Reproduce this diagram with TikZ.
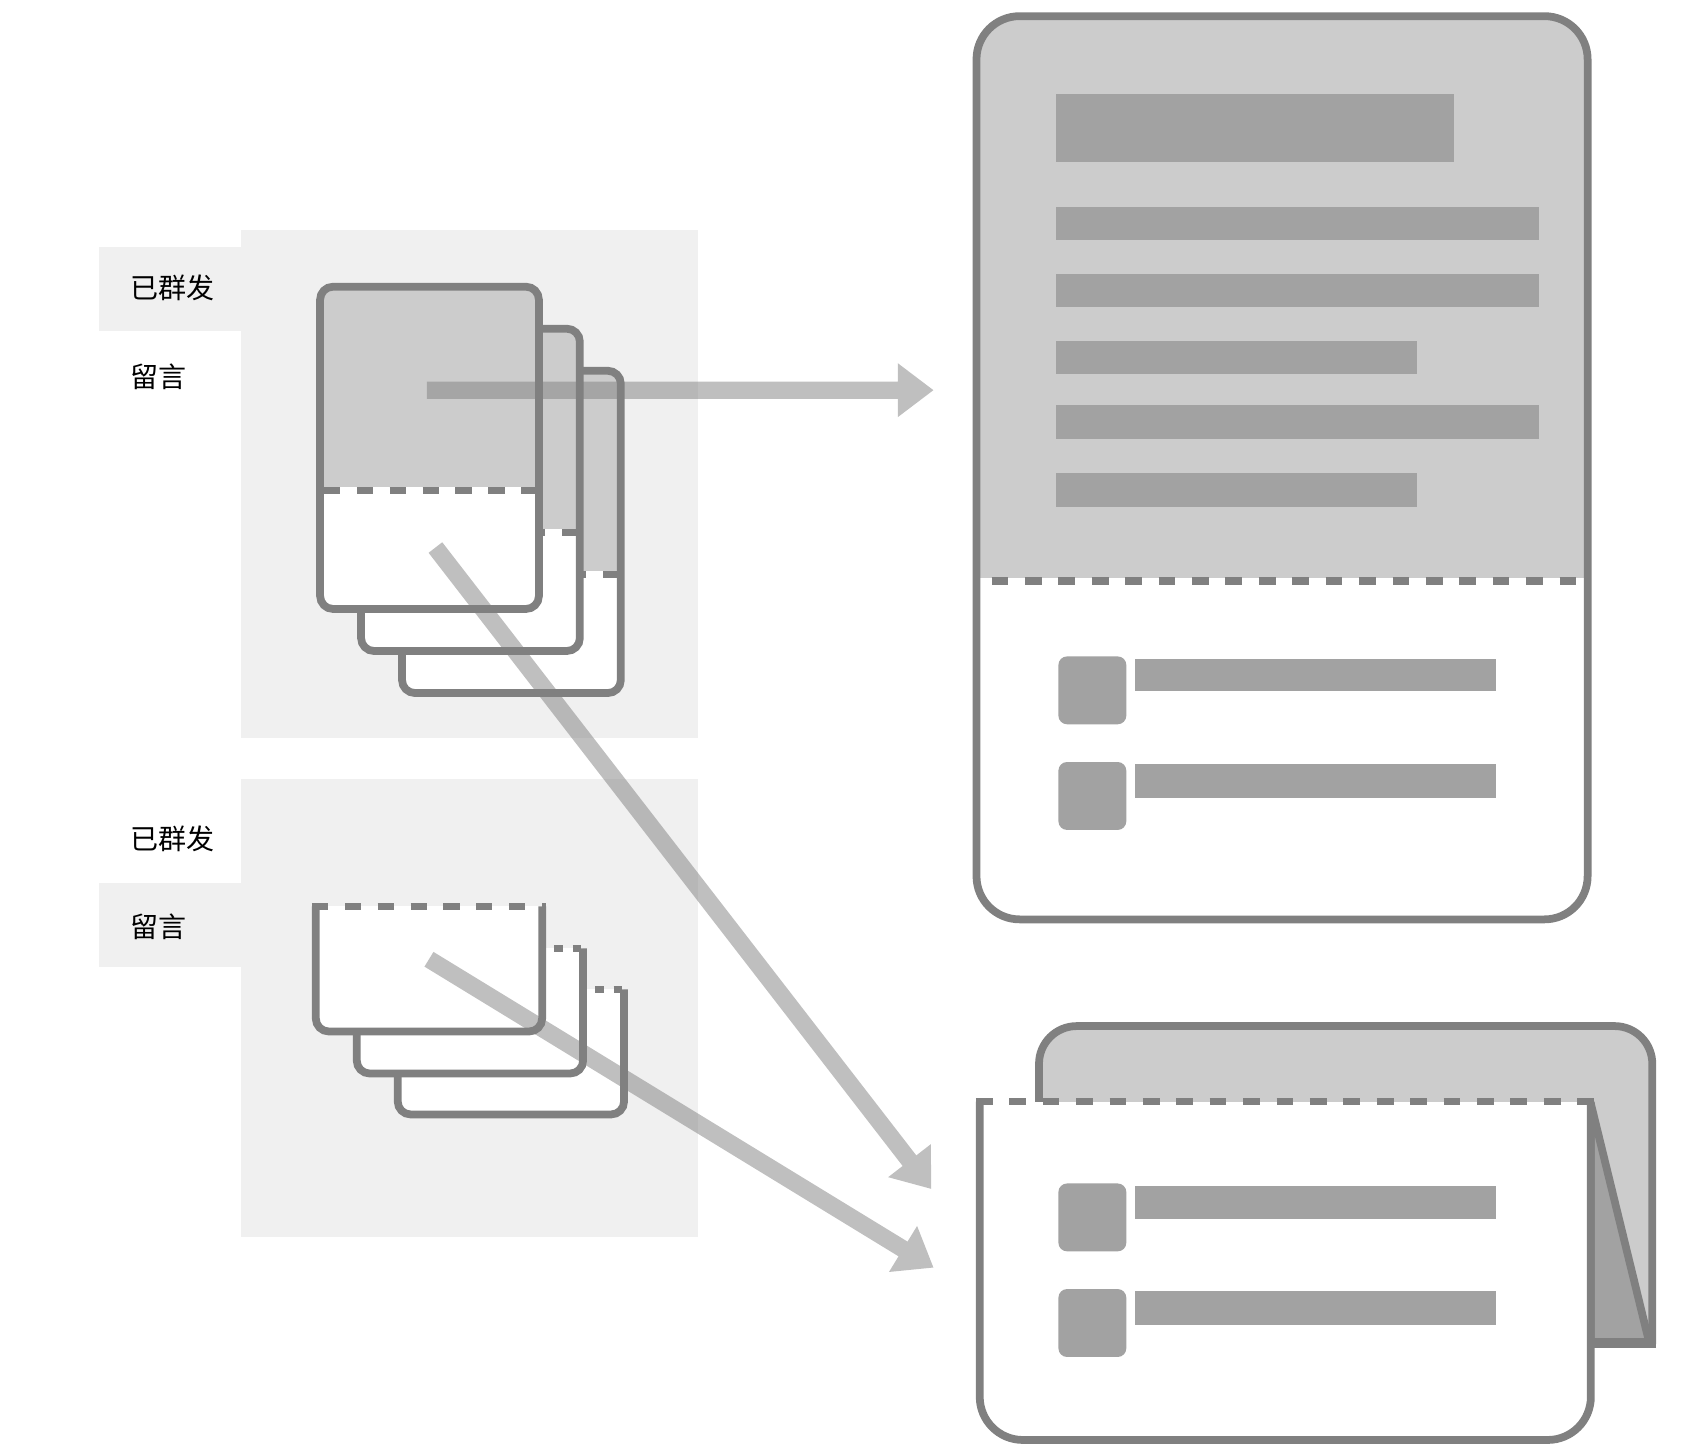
\documentclass[tikz,border=0pt]{standalone}
\usepackage{fontspec}
\newfontfamily\cjk{Noto Sans CJK SC}
\usetikzlibrary{calc}
\definecolor{panelc}{HTML}{F0F0F0}
\definecolor{topc}{HTML}{CCCCCC}
\definecolor{barc}{HTML}{A2A2A2}
\definecolor{bordc}{HTML}{808080}
\tikzset{
  bord/.style={draw=bordc, line width=7.2pt},
  dsh/.style={dash pattern=on 15pt off 15.5pt},
  smalldsh/.style={dash pattern=on 8pt off 9pt},
  bar/.style={fill=barc},
  lbl/.style={font=\cjk\fontsize{26}{30}\selectfont, text=black, inner sep=0pt, anchor=west},
  arrowfill/.style={fill=bordc, fill opacity=0.5},
}
\newcommand{\tallcard}[2]{%
  \begin{scope}
    \clip[rounded corners=12pt] (#1,#2) rectangle ++(203,299);
    \fill[white] (#1,#2) rectangle ++(203,299);
    \fill[topc] (#1,#2) rectangle ++(203,186);
  \end{scope}
  \draw[bord, dsh] ($(#1,#2)+(3.6,189)$) -- ++(195.8,0);
  \draw[bord, rounded corners=12pt] (#1,#2) rectangle ++(203,299);
}
\newcommand{\widecard}[3]{%
  \begin{scope}
    \clip[rounded corners=12pt] ($(#1,#2)+(0,-20)$) rectangle ++(210,136);
    \fill[white] (#1,#2) rectangle ++(210,116);
  \end{scope}
  \draw[bord, rounded corners=12pt] (#1,#2) -- ++(0,116) -- ++(210,0) -- ++(0,-116);
  \draw[bord, #3] ($(#1,#2)+(-3.6,0)$) -- ++(217.2,0);
}
\newcommand{\fatarrow}[2]{%
  \coordinate (hb) at ($(#2)!33pt!(#1)$);
  \fill[arrowfill] ($(#1)!8pt!90:(#2)$) -- ($(hb)!8pt!90:(#2)$) -- ($(hb)!25pt!90:(#2)$)
    -- (#2) -- ($(hb)!25pt!-90:(#2)$) -- ($(hb)!8pt!-90:(#2)$) -- ($(#1)!8pt!-90:(#2)$) -- cycle;
}
\begin{document}
\begin{tikzpicture}[x=1pt,y=-1pt]
\useasboundingbox (0,0) rectangle (1568,1349);
\fill[white] (0,0) rectangle (1568,1349);

% left panels
\fill[panelc] (224,213) rectangle (648,685);
\fill[panelc] (92,229) rectangle (224,307);
\fill[panelc] (224,723) rectangle (648,1148);
\fill[panelc] (92,819) rectangle (224,897);

\node[lbl] (l1a) at (121,267) {已群发};
\node[lbl] (l1b) at (121,350) {留言};
\node[lbl] (l2a) at (121,778) {已群发};
\node[lbl] (l2b) at (121,860) {留言};

% top stacked cards
\tallcard{373}{344}
\tallcard{335}{305}
\tallcard{297}{266}

% bottom stacked cards
\widecard{369}{918}{smalldsh}
\widecard{331}{880}{smalldsh}
\widecard{293}{841}{dsh}

% big card top right
\begin{scope}
  \clip[rounded corners=40pt] (906,15) rectangle (1473,853);
  \fill[white] (906,15) rectangle (1473,853);
  \fill[topc] (906,15) rectangle (1473,536);
\end{scope}
\draw[bord, dash pattern=on 15.5pt off 15.5pt] (920,539) -- (1463,539);
\draw[bord, rounded corners=40pt] (906,15) rectangle (1473,853);
\fill[bar] (980,87) rectangle (1349,150);
\fill[bar] (980,192) rectangle (1428,223);
\fill[bar] (980,254) rectangle (1428,285);
\fill[bar] (980,316) rectangle (1315,347);
\fill[bar] (980,376) rectangle (1428,407);
\fill[bar] (980,439) rectangle (1315,470);
\fill[bar, rounded corners=8pt] (982,609) rectangle (1045,672);
\fill[bar] (1053,611) rectangle (1388,641);
\fill[bar, rounded corners=8pt] (982,707) rectangle (1045,770);
\fill[bar] (1053,709) rectangle (1388,740);

% bottom right: back card
\begin{scope}
  \clip[rounded corners=35pt] (964,952) rectangle (1533,1300);
  \fill[topc] (964,952) rectangle (1533,1247);
\end{scope}
\draw[bord, rounded corners=35pt] (964,1100) -- (964,952) -- (1533,952) -- (1533,1247);
\draw[bord] (1536.6,1247) -- (1476,1247);
\filldraw[fill=barc, draw=bordc, line width=7.2pt, line join=round] (1476,1024) -- (1530,1245) -- (1476,1245) -- cycle;
% front card
\begin{scope}
  \clip[rounded corners=40pt] (909,990) rectangle (1476,1336);
  \fill[white] (909,1022) rectangle (1476,1336);
\end{scope}
\draw[bord, rounded corners=40pt] (909,1022) -- (909,1336) -- (1476,1336) -- (1476,1022);
\draw[bord, dash pattern=on 15.5pt off 15.5pt] (905.4,1022) -- (1479.6,1022);
\fill[bar, rounded corners=8pt] (982,1098) rectangle (1045,1161);
\fill[bar] (1053,1100) rectangle (1388,1131);
\fill[bar, rounded corners=8pt] (982,1196) rectangle (1045,1259);
\fill[bar] (1053,1198) rectangle (1388,1229);

% arrows
\coordinate (a1s) at (396,362);
\coordinate (a1e) at (866,362);
\coordinate (a2s) at (404,508);
\coordinate (a2e) at (864,1103);
\coordinate (a3s) at (398,890);
\coordinate (a3e) at (866,1176);
\fatarrow{a1s}{a1e}
\fatarrow{a2s}{a2e}
\fatarrow{a3s}{a3e}
\end{tikzpicture}
\end{document}
